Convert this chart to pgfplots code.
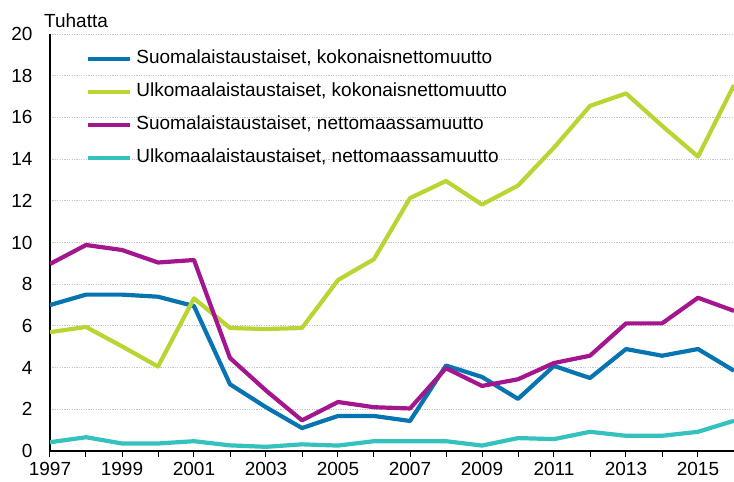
\documentclass[border=0pt]{standalone}
\usepackage{fontspec}
\setmainfont{Liberation Sans}
\usepackage{pgfplots}
\pgfplotsset{compat=1.18}
\definecolor{cblue}{HTML}{0774B2}
\definecolor{cgreen}{HTML}{B9D534}
\definecolor{cmag}{HTML}{A3168D}
\definecolor{ccyan}{HTML}{35C2BF}
\definecolor{cgrid}{HTML}{C4C4CC}
\begin{document}
\begin{tikzpicture}
\begin{axis}[name=ax,
  scale only axis, width=684pt, height=417pt,
  xmin=1997, xmax=2016, ymin=0, ymax=20,
  ytick={0,2,...,20},
  xtick={1997,1999,...,2015},
  minor xtick={1998,2000,...,2016},
  axis x line*=bottom, axis y line*=left,
  axis line style={black, line width=1.3pt},
  tick align=outside,
  major tick length=6pt, minor tick length=6pt,
  xtick style={black, line width=1pt},
  minor tick style={black, line width=1pt},
  ytick style={draw=none},
  ymajorgrids,
  major grid style={cgrid, line width=0.8pt, dash pattern=on 1.2pt off 1.2pt},
  /pgf/number format/assume math mode=true,
  /pgf/number format/1000 sep={},
  tick label style={font=\fontsize{19}{21}\selectfont},
  xticklabel style={yshift=-2pt},
  yticklabel style={xshift=-8pt},
  every axis plot/.append style={line width=4.2pt, line join=round},
  clip=true,
  legend cell align=left,
  legend style={draw=none, fill=none, inner sep=0pt,
    at={(0,1)}, anchor=north west, xshift=36pt, yshift=-16pt,
    font=\fontsize{19}{21}\selectfont,
    nodes={inner sep=0pt, text height=13.5pt, text depth=4pt},
    row sep=15.5pt, column sep=4pt},
  legend image code/.code={\draw[line width=4.2pt] (0pt,0pt) -- (42pt,0pt);},
]
\addplot[cblue] coordinates {(1997,7.0)(1998,7.5)(1999,7.5)(2000,7.4)(2001,6.95)(2002,3.2)(2003,2.1)(2004,1.1)(2005,1.68)(2006,1.68)(2007,1.44)(2008,4.1)(2009,3.55)(2010,2.5)(2011,4.08)(2012,3.5)(2013,4.89)(2014,4.57)(2015,4.89)(2016,3.85)};
\addlegendentry{Suomalaistaustaiset, kokonaisnettomuutto}
\addplot[cgreen] coordinates {(1997,5.7)(1998,5.95)(1999,5.02)(2000,4.05)(2001,7.32)(2002,5.9)(2003,5.85)(2004,5.9)(2005,8.2)(2006,9.2)(2007,12.13)(2008,12.95)(2009,11.82)(2010,12.73)(2011,14.55)(2012,16.55)(2013,17.15)(2014,15.6)(2015,14.12)(2016,17.55)};
\addlegendentry{Ulkomaalaistaustaiset, kokonaisnettomuutto}
\addplot[cmag] coordinates {(1997,8.97)(1998,9.88)(1999,9.64)(2000,9.04)(2001,9.16)(2002,4.46)(2003,2.9)(2004,1.47)(2005,2.35)(2006,2.1)(2007,2.04)(2008,3.97)(2009,3.12)(2010,3.44)(2011,4.22)(2012,4.57)(2013,6.12)(2014,6.12)(2015,7.35)(2016,6.72)};
\addlegendentry{Suomalaistaustaiset, nettomaassamuutto}
\addplot[ccyan] coordinates {(1997,0.42)(1998,0.66)(1999,0.36)(2000,0.36)(2001,0.47)(2002,0.27)(2003,0.2)(2004,0.32)(2005,0.26)(2006,0.47)(2007,0.47)(2008,0.47)(2009,0.26)(2010,0.62)(2011,0.57)(2012,0.92)(2013,0.73)(2014,0.73)(2015,0.92)(2016,1.45)};
\addlegendentry{Ulkomaalaistaustaiset, nettomaassamuutto}
\end{axis}
\node[anchor=base west, font=\fontsize{19}{21}\selectfont, inner sep=0pt] at ([shift={(-6pt,6pt)}]ax.north west) {Tuhatta};
\pgfresetboundingbox
\path[use as bounding box] ([shift={(-50pt,-31pt)}]ax.south west) rectangle ([shift={(0pt,34pt)}]ax.north east);
\end{tikzpicture}
\end{document}
